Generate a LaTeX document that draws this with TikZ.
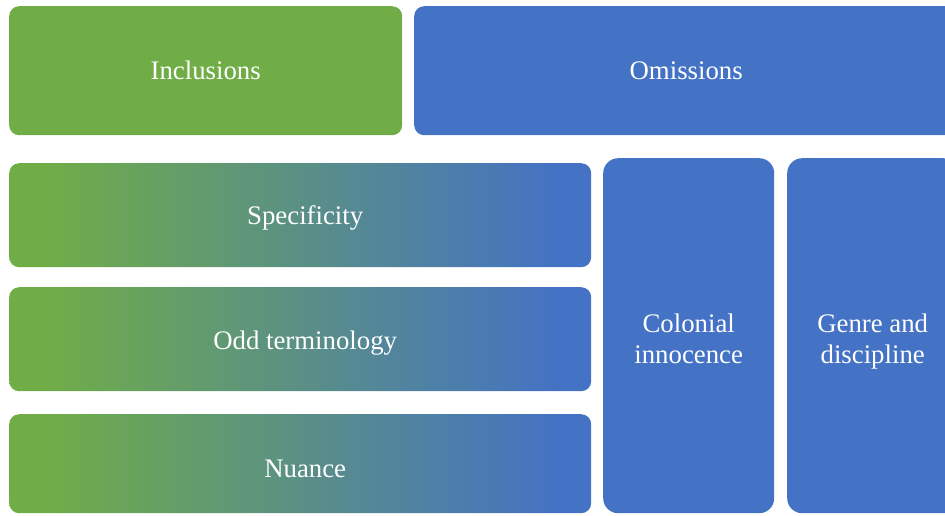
\documentclass[tikz,border=0pt]{standalone}
\usepackage{fontspec}
\setmainfont{Liberation Serif}
\usetikzlibrary{positioning}
\definecolor{inclgreen}{HTML}{70AD47}
\definecolor{omisblue}{HTML}{4472C4}
\pgfdeclarehorizontalshading{inclomis}{100bp}{color(0bp)=(inclgreen); color(28bp)=(inclgreen); color(72bp)=(omisblue); color(100bp)=(omisblue)}
\tikzset{
  tile/.style={anchor=north west,inner sep=0pt,text=white,align=center,
    font=\fontsize{26.8}{31}\selectfont,rounded corners=10pt},
  tiletext/.style={tile,anchor=center},
  greentile/.style={tile,fill=inclgreen},
  bluetile/.style={tile,fill=omisblue},
  mixtile/.style={tile,shading=inclomis,minimum width=582pt,minimum height=104pt},
  tall/.style={bluetile,rounded corners=15pt,minimum width=171pt,minimum height=355pt}
}
\begin{document}
\begin{tikzpicture}[x=1pt,y=-1pt]
                \useasboundingbox (0,0) rectangle (945,515);
                \clip (0,0) rectangle (945,515);
                % top row
                \node[greentile,minimum width=393pt,minimum height=129pt] (incl) at (9,6) {Inclusions};
                \node[bluetile,minimum width=544pt,minimum height=129pt] (omis) at (414,6) {Omissions};
                % gradient rows
                \node[mixtile,label={[tiletext,xshift=5pt,yshift=-3pt]center:Specificity}] (spec) at (9,163) {};
                \node[mixtile,label={[tiletext,xshift=5pt,yshift=-4pt]center:Odd terminology}] (odd) at (9,287) {};
                \node[mixtile,minimum height=99pt,label={[tiletext,xshift=5pt,yshift=-5pt]center:Nuance}] (nuan) at (9,414) {};
                % tall columns
                \node[tall,label={[tiletext,yshift=-3pt]center:Colonial\\innocence}] (colo) at (603,158) {};
                \node[tall,label={[tiletext,yshift=-5.5pt]center:Genre and\\discipline}] (genr) at (787,158) {};
            \end{tikzpicture}
\end{document}
